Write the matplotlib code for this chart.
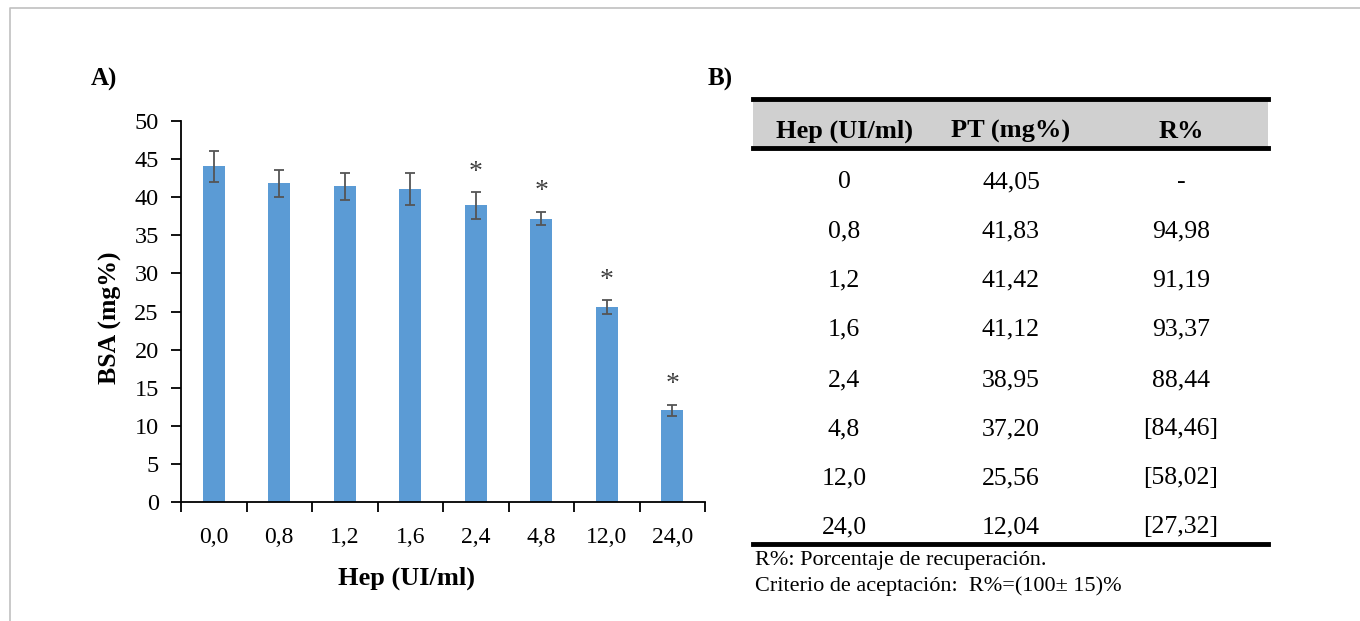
import numpy as np
import matplotlib
matplotlib.use("Agg")
import matplotlib.pyplot as plt

plt.rcParams['font.family'] = ['Liberation Serif', 'DejaVu Serif']

# data
hep_labels = ['0,0', '0,8', '1,2', '1,6', '2,4', '4,8', '12,0', '24,0']
bsa = [44.05, 41.83, 41.42, 41.12, 38.95, 37.20, 25.56, 12.04]
bsa_err = [2.0, 1.8, 1.8, 2.1, 1.75, 0.9, 0.95, 0.75]
signif = [False, False, False, False, True, True, True, True]

tab_header = ['Hep (UI/ml)', 'PT (mg%)', 'R%']
tab_hep = ['0', '0,8', '1,2', '1,6', '2,4', '4,8', '12,0', '24,0']
tab_pt = ['44,05', '41,83', '41,42', '41,12', '38,95', '37,20', '25,56', '12,04']
tab_r = ['-', '94,98', '91,19', '93,37', '88,44', '[84,46]', '[58,02]', '[27,32]']
notes = ['R%: Porcentaje de recuperación.',
         'Criterio de aceptación:  R%=(100\u00b1 15)%']

W, H = 1360, 621
fig = plt.figure(figsize=(W / 100, H / 100), dpi=100)

# background canvas in pixel coordinates (frame, panel letters, table)
bg = fig.add_axes([0, 0, 1, 1], zorder=0)
bg.set_xlim(0, W)
bg.set_ylim(H, 0)
bg.axis('off')
bg.plot([10, 10, W], [H, 8, 8], color='#c0c0c0', lw=1.2)

bg.text(91, 79, 'A)', fontsize=18, fontweight='bold', ha='left', va='center')
bg.text(708, 79, 'B)', fontsize=18, fontweight='bold', ha='left', va='center')

# ---- A) bar chart
ax = fig.add_axes([181 / W, 1 - 502 / H, 524 / W, 381 / H], zorder=2)
ax.patch.set_alpha(0)
x = np.arange(len(bsa))
ax.bar(x, bsa, width=0.33, color='#5b9bd5', zorder=2)
ax.errorbar(x, bsa, yerr=bsa_err, fmt='none', ecolor='#555555',
            elinewidth=1.3, capsize=3.8, capthick=1.3, zorder=3)
for i in range(len(bsa)):
    if signif[i]:
        ax.text(x[i], bsa[i] + bsa_err[i] + 2.6, '*', ha='center', va='center',
                fontsize=20, color='#404040')

ax.set_xlim(-0.5, len(bsa) - 0.5)
ax.set_ylim(0, 50)
ax.set_yticks(np.arange(0, 51, 5))
ax.set_yticklabels([str(v) for v in range(0, 51, 5)])
ax.set_xticks(x)
ax.set_xticklabels(hep_labels)
ax.tick_params(axis='x', which='major', length=0, pad=18, labelsize=17)
ax.set_xticks(np.arange(-0.5, len(bsa), 1), minor=True)
ax.tick_params(axis='x', which='minor', length=7, width=1.3, direction='out')
ax.tick_params(axis='y', length=7, width=1.3, direction='out', labelsize=17.5, pad=9)
for s in ['top', 'right']:
    ax.spines[s].set_visible(False)
for s in ['left', 'bottom']:
    ax.spines[s].set_linewidth(1.3)
ax.set_xlabel('Hep (UI/ml)', fontsize=19, fontweight='bold')
ax.set_ylabel('BSA (mg%)', fontsize=18.5, fontweight='bold')
ax.xaxis.label.set_va('center')
ax.yaxis.label.set_va('center')
ax.xaxis.set_label_coords((406 - 181) / 524, -(578 - 502) / 381)
ax.yaxis.set_label_coords((110 - 181) / 524, (502 - 318) / 381)

# ---- B) table
tx0, tx1 = 753, 1268
col_x = [844, 1011, 1181]
bg.fill_between([tx0, tx1], 100, 147, color='#d0d0d0', lw=0)
bg.plot([tx0, tx1], [99, 99], color='black', lw=3.5)
bg.plot([tx0, tx1], [148, 148], color='black', lw=3.5)
for cx, h in zip(col_x, tab_header):
    bg.text(cx, 131, h, ha='center', va='center', fontsize=19, fontweight='bold')

row_y = [182, 231, 280, 329, 380, 429, 478, 527]
for ry, a, b, c in zip(row_y, tab_hep, tab_pt, tab_r):
    bg.text(col_x[0], ry, a, ha='center', va='center', fontsize=18.5)
    bg.text(col_x[1], ry, b, ha='center', va='center', fontsize=18.5)
    bg.text(col_x[2], ry, c, ha='center', va='center', fontsize=18.5)
bg.plot([tx0, tx1], [544, 544], color='black', lw=3.5)

bg.text(755, 560, notes[0], ha='left', va='center', fontsize=16)
bg.text(755, 586, notes[1], ha='left', va='center', fontsize=16)

fig.savefig('out.png', dpi=100)
